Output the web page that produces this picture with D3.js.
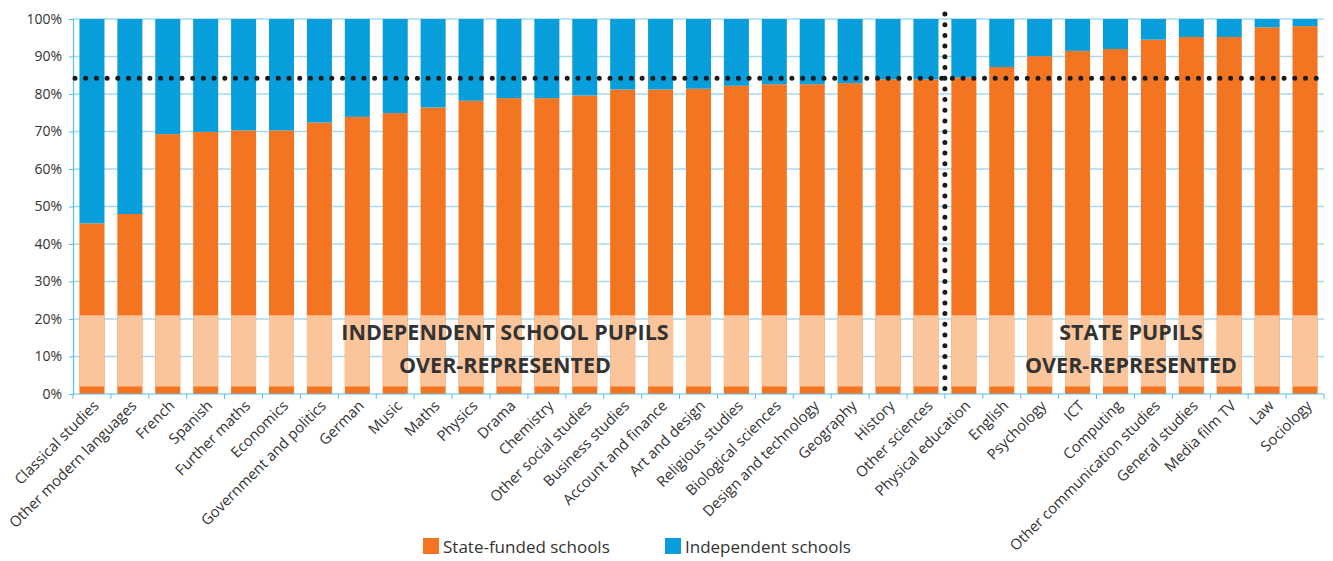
<!DOCTYPE html>
<html><head><meta charset="utf-8">
<script src="https://cdn.jsdelivr.net/npm/d3@7"></script>
<style>
body{margin:0;background:#fff;}
text{font-family:"Open Sans","Noto Sans",sans-serif;fill:#333;}
</style></head>
<body><svg id="c" width="1333" height="561"></svg>
<script>
const categories = ["Classical studies","Other modern languages","French","Spanish","Further maths","Economics","Government and politics","German","Music","Maths","Physics","Drama","Chemistry","Other social studies","Business studies","Account and finance","Art and design","Religious studies","Biological sciences","Design and technology","Geography","History","Other sciences","Physical education","English","Psychology","ICT","Computing","Other communication studies","General studies","Media film TV","Law","Sociology"];
const stateFunded = [45.5,48.0,69.3,69.9,70.3,70.3,72.4,73.9,74.9,76.4,78.2,78.9,78.9,79.6,81.2,81.2,81.4,82.2,82.6,82.6,82.9,83.9,83.9,84.4,87.2,90.1,91.5,92.0,94.5,95.2,95.2,97.8,98.1];
const independent = [54.5,52.0,30.7,30.1,29.7,29.7,27.6,26.1,25.1,23.6,21.8,21.1,21.1,20.4,18.8,18.8,18.6,17.8,17.4,17.4,17.1,16.1,16.1,15.6,12.8,9.9,8.5,8.0,5.5,4.8,4.8,2.2,1.9];
const yTicks = [0,10,20,30,40,50,60,70,80,90,100];
const threshold = 84.2;
const splitAfter = "Other sciences";
const band = [2, 21];
const seriesNames = ["State-funded schools","Independent schools"];
const colors = ["#f47521","#079edb"];
const notes = [
  {lines:["INDEPENDENT SCHOOL PUPILS","OVER-REPRESENTED"], cx:505},
  {lines:["STATE PUPILS","OVER-REPRESENTED"], cx:1131}
];

const svg = d3.select("#c");
const L=73, R=1324, T=19, B=394;
const x = d3.scaleBand().domain(categories).range([L,R]).paddingInner(0.34).paddingOuter(0.17);
const y = d3.scaleLinear().domain([0,100]).range([B,T]);
const step = x.step();

// gridlines
svg.append("g").selectAll("line").data(yTicks.filter(d=>d>0)).join("line")
  .attr("x1",L).attr("x2",R).attr("y1",d=>y(d)).attr("y2",d=>y(d))
  .attr("stroke","#a6daf1").attr("stroke-width",1.6);

// y axis
const ya = svg.append("g").attr("transform",`translate(${L},0)`)
  .call(d3.axisLeft(y).tickValues(yTicks).tickFormat(d=>d+"%").tickSize(4).tickPadding(7));
ya.select(".domain").attr("stroke","#5cbce8").attr("stroke-width",1.2);
ya.selectAll(".tick line").attr("stroke","#5cbce8");
ya.selectAll("text").style("font-size","14px").attr("fill","#333");

// bars
const stack = categories.map((c,i)=>({c, s:stateFunded[i], ind:independent[i]}));
const g = svg.append("g");
g.selectAll(".s").data(stack).join("rect")
  .attr("x",d=>x(d.c)).attr("width",x.bandwidth())
  .attr("y",d=>y(d.s)).attr("height",d=>y(0)-y(d.s)).attr("fill",colors[0]);
g.selectAll(".i").data(stack).join("rect")
  .attr("x",d=>x(d.c)).attr("width",x.bandwidth())
  .attr("y",d=>y(d.s+d.ind)).attr("height",d=>y(d.s)-y(d.s+d.ind)).attr("fill",colors[1]);
// light band
g.selectAll(".b").data(stack).join("rect")
  .attr("x",d=>x(d.c)).attr("width",x.bandwidth())
  .attr("y",y(band[1])).attr("height",y(band[0])-y(band[1])).attr("fill","#fbc59b");

// x axis
svg.append("line").attr("x1",L).attr("x2",R).attr("y1",B).attr("y2",B).attr("stroke","#5cbce8").attr("stroke-width",1.2);
svg.append("g").selectAll("line").data(d3.range(categories.length+1)).join("line")
  .attr("x1",i=>L+i*step).attr("x2",i=>L+i*step).attr("y1",B).attr("y2",B+5)
  .attr("stroke","#5cbce8");
svg.append("g").selectAll("text").data(categories).join("text")
  .attr("transform",d=>`translate(${x(d)+x.bandwidth()/2+4},${B+9}) rotate(-45)`)
  .attr("text-anchor","end").attr("dy","0.35em")
  .style("font-size","14.8px").attr("fill","#2b2b2b").text(d=>d);

// threshold dotted line
svg.append("line").attr("x1",L+2).attr("x2",R).attr("y1",y(threshold)).attr("y2",y(threshold))
  .attr("stroke","#1a1a1a").attr("stroke-width",5).attr("stroke-linecap","round").attr("stroke-dasharray","0 10.7");
const splitX = x(splitAfter)+x.bandwidth()+ (step-x.bandwidth())/2;
svg.append("line").attr("x1",splitX).attr("x2",splitX).attr("y1",14).attr("y2",390)
  .attr("stroke","#1a1a1a").attr("stroke-width",5).attr("stroke-linecap","round").attr("stroke-dasharray","0 10.7");

// notes
notes.forEach(n=>{
  n.lines.forEach((ln,k)=>{
    svg.append("text").attr("x",n.cx).attr("y",y(band[1])+25+k*33).attr("text-anchor","middle")
      .style("font-size","21.5px").style("font-weight","bold").attr("fill","#231f20").text(ln);
  });
});

// legend
const lg = svg.append("g");
const lx = [423,665];
seriesNames.forEach((s,i)=>{
  lg.append("rect").attr("x",lx[i]).attr("y",538).attr("width",16).attr("height",16).attr("fill",colors[i]);
  lg.append("text").attr("x",lx[i]+20).attr("y",553).style("font-size","17px").attr("fill","#333").text(s);
});
</script></body></html>
